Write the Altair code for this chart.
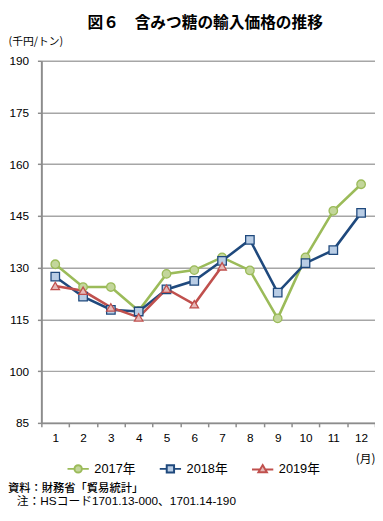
import altair as alt
import pandas as pd

months = list(range(1, 13))
series_names = ["2017年", "2018年", "2019年"]
v2017 = [131.0, 124.4, 124.4, 117.5, 128.2, 129.3, 133.0, 129.2, 115.3, 133.0, 146.5, 154.2]
v2018 = [127.4, 121.6, 117.8, 117.3, 123.7, 126.2, 132.0, 138.1, 122.8, 131.3, 135.1, 145.9]
v2019 = [124.7, 123.3, 118.5, 115.6, 123.9, 119.4, 130.4]
y_ticks = [85, 100, 115, 130, 145, 160, 175, 190]
title_text = "図６　含みつ糖の輸入価格の推移"
y_unit = "(千円/トン)"
x_unit = "(月)"
note_source = "資料：財務省「貿易統計」"
note_hs = "注：HSコード1701.13-000、1701.14-190"

line_colors = ["#9BBB59", "#1F497D", "#C0504D"]
fill_colors = ["#C3D69B", "#B9CDE5", "#E6B9B8"]
plot_shapes = ["circle", "square", "triangle-up"]
legend_shapes = [
    "M-2.9,0L-1,0M1,0L2.9,0M1,0A1,1,0,1,1,-1,0A1,1,0,1,1,1,0Z",
    "M-2.9,0L-1,0M1,0L2.9,0M-1,-1L1,-1L1,1L-1,1Z",
    "M-2.9,0.1L-0.62,0.1M0.62,0.1L2.9,0.1M0,-1.1L1.15,0.85L-1.15,0.85Z",
]

rows = []
for name, vals in zip(series_names, [v2017, v2018, v2019]):
    for m, v in zip(months, vals):
        rows.append({"month": m, "series": name, "value": v})
df = pd.DataFrame(rows)

FONT = '"Liberation Sans", "Noto Sans CJK JP", sans-serif'
JFONT = '"Noto Sans CJK JP", sans-serif'

x_enc = alt.X(
    "month:O",
    bandPosition=0.5,
    scale=alt.Scale(type="band", paddingInner=0, paddingOuter=0, domain=months),
    axis=alt.Axis(
        title=x_unit, titleX=320, titleY=36, titleAlign="left", titleBaseline="middle",
        titleFont=JFONT, titleFontSize=12, titleFontWeight="normal", titleColor="#000",
        labelAngle=0, tickBand="extent", tickSize=4, labelPadding=6,
        labelFont=FONT, labelFontSize=12, labelColor="#000",
        domainColor="#8C8C8C", domainWidth=2, tickColor="#8C8C8C", tickWidth=1.5,
        grid=False,
    ),
)
y_enc = alt.Y(
    "value:Q",
    scale=alt.Scale(domain=[85, 190], nice=False, zero=False),
    axis=alt.Axis(
        values=y_ticks, title=y_unit, titleAngle=0, titleX=-34, titleY=-20,
        titleAlign="left", titleBaseline="middle", titleFont=JFONT, titleFontSize=11,
        titleFontWeight="normal", titleColor="#000",
        tickSize=4, labelPadding=9, labelFont=FONT, labelFontSize=12, labelColor="#000",
        domainColor="#8C8C8C", domainWidth=2, tickColor="#8C8C8C", tickWidth=1.5,
        grid=True, gridColor="#A6A6A6", gridWidth=1.5,
    ),
)

stroke_scale = alt.Scale(domain=series_names, range=line_colors)
fill_scale = alt.Scale(domain=series_names, range=fill_colors)

lines = alt.Chart(df).mark_line(strokeWidth=2.6).encode(
    x=x_enc, y=y_enc,
    stroke=alt.Stroke("series:N", scale=stroke_scale, legend=None),
    detail="series:N",
)
points = alt.Chart(df).mark_point(filled=False, strokeWidth=1.3, opacity=1).encode(
    x=x_enc, y=y_enc,
    shape=alt.Shape("series:N", scale=alt.Scale(domain=series_names, range=plot_shapes), legend=None),
    fill=alt.Fill("series:N", scale=fill_scale, legend=None),
    stroke=alt.Stroke("series:N", scale=stroke_scale, legend=None),
    size=alt.value(75),
)
legend_layer = alt.Chart(df).mark_point(filled=False, strokeWidth=2, opacity=1).encode(
    x=x_enc, y=y_enc,
    shape=alt.Shape("series:N", scale=alt.Scale(domain=series_names, range=legend_shapes),
                    legend=alt.Legend(title=None)),
    fill=alt.Fill("series:N", scale=fill_scale, legend=alt.Legend(title=None)),
    stroke=alt.Stroke("series:N", scale=stroke_scale, legend=alt.Legend(title=None)),
).transform_filter("false")

note1 = alt.Chart(pd.DataFrame({"t": [note_source]})).mark_text(
    align="left", baseline="middle", font=JFONT, fontSize=11.5, fontWeight=500, color="#000"
).encode(text="t:N", x=alt.value(-34), y=alt.value(436))
note2 = alt.Chart(pd.DataFrame({"t": [note_hs]})).mark_text(
    align="left", baseline="middle", font=FONT, fontSize=12, color="#000"
).encode(text="t:N", x=alt.value(-25), y=alt.value(449))

chart = alt.layer(lines, points, legend_layer, note1, note2).resolve_scale(
    shape="independent", fill="independent", stroke="independent"
).properties(
    width=340, height=369,
    autosize=alt.AutoSizeParams(type="none"),
    padding={"left": 34, "top": 49, "right": 0, "bottom": 85},
    title=alt.TitleParams(title_text, font=JFONT, fontSize=16, fontWeight="bold",
                          anchor="middle", color="#000", dx=-3, offset=4),
).configure_view(stroke=None).configure_legend(
    orient="none", legendX=31, legendY=409, direction="horizontal",
    padding=0, symbolSize=56, symbolStrokeWidth=2, labelOffset=10, columnPadding=20,
    labelFont=FONT, labelFontSize=13, labelColor="#000",
)

chart.save("out.html", embed_options={"renderer": "svg", "actions": False})
